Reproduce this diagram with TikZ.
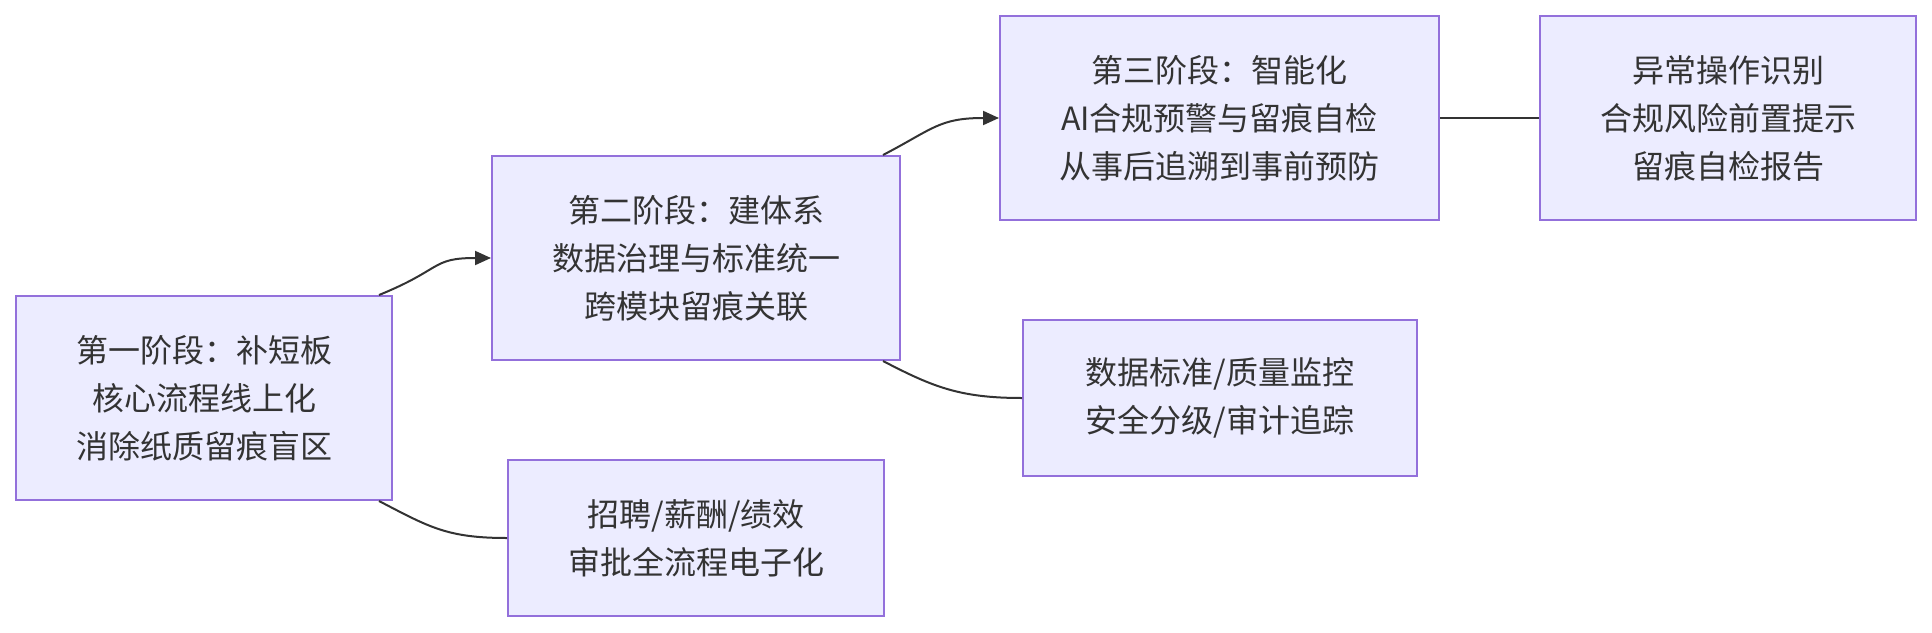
\documentclass[tikz,border=0pt]{standalone}
\usepackage{fontspec}
\newfontfamily\cjk{Noto Sans CJK SC}
\usetikzlibrary{arrows.meta}
\definecolor{boxfill}{HTML}{ECECFF}
\definecolor{boxline}{HTML}{9370DB}
\definecolor{ink}{HTML}{333333}
\tikzset{
  box/.style={draw=boxline, fill=boxfill, line width=1pt, inner sep=0pt,
    align=center, text=ink, font=\cjk\fontsize{16pt}{24pt}\selectfont},
  tall/.style={minimum height=102pt},
  short/.style={minimum height=78pt},
  link/.style={draw=ink, line width=1pt},
  arr/.style={link, -{Triangle[length=8pt,width=7pt]}}
}
\begin{document}
\begin{tikzpicture}[x=0.5pt,y=-0.5pt]
\useasboundingbox (0,0) rectangle (1932,632);
\node[box,tall,minimum width=188pt] (n1) at (204,398) {第一阶段：补短板\\核心流程线上化\\消除纸质留痕盲区};
\node[box,tall,minimum width=204pt] (n2) at (696,258) {第二阶段：建体系\\数据治理与标准统一\\跨模块留痕关联};
\node[box,tall,minimum width=219.5pt] (n3) at (1219.5,118) {第三阶段：智能化\\AI合规预警与留痕自检\\从事后追溯到事前预防};
\node[box,tall,minimum width=188pt] (n4) at (1728,118) {异常操作识别\\合规风险前置提示\\留痕自检报告};
\node[box,short,minimum width=197pt] (n5) at (1220,398) {数据标准/质量监控\\安全分级/审计追踪};
\node[box,short,minimum width=188pt] (n6) at (696,538) {招聘/薪酬/绩效\\审批全流程电子化};
% connectors
\draw[arr] ([xshift=-7pt]n1.north east) .. controls ([shift={(25pt,13pt)}]n1.north east) and ([shift={(-30pt,0pt)}]n2.west) .. (n2.west);
\draw[link] ([xshift=-7pt]n1.south east) .. controls ([shift={(18pt,-13pt)}]n1.south east) and ([shift={(-30pt,0pt)}]n6.west) .. (n6.west);
\draw[arr] ([xshift=-9pt]n2.north east) .. controls ([shift={(16pt,13pt)}]n2.north east) and ([shift={(-30pt,0pt)}]n3.west) .. (n3.west);
\draw[link] ([xshift=-9pt]n2.south east) .. controls ([shift={(16pt,-13pt)}]n2.south east) and ([shift={(-31pt,0pt)}]n5.west) .. (n5.west);
\draw[link] (n3.east) -- (n4.west);
\end{tikzpicture}
\end{document}
